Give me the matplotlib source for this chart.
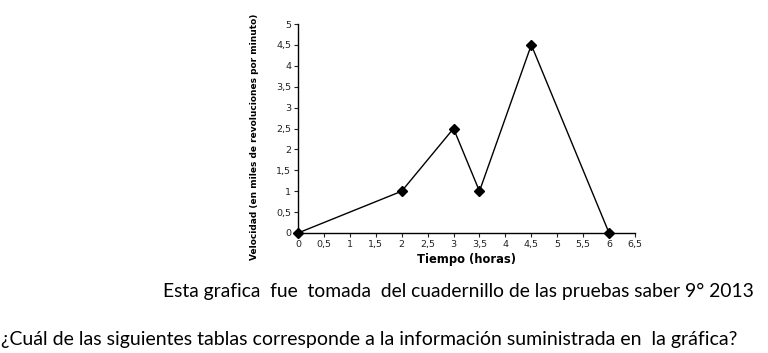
import matplotlib
matplotlib.use('Agg')
import matplotlib.pyplot as plt
import numpy as np

# datos de la grafica
tiempo = [0, 2, 3, 3.5, 4.5, 6]
velocidad = [0, 1, 2.5, 1, 4.5, 0]
x_ticks = np.arange(0, 6.51, 0.5)
y_ticks = np.arange(0, 5.01, 0.5)


def fmt(v):
    s = f'{v:g}'
    return s.replace('.', ',')


fig = plt.figure(figsize=(7.68, 3.53), dpi=100)
ax = fig.add_axes([298 / 768, 1 - 233 / 353, 337 / 768, 209 / 353])

ax.plot(tiempo, velocidad, color='black', lw=1.0, marker='D', markersize=5,
        markerfacecolor='black', clip_on=False, zorder=3)

ax.set_xlim(0, 6.5)
ax.set_ylim(0, 5)
ax.set_xticks(x_ticks)
ax.set_xticklabels([fmt(v) for v in x_ticks])
ax.set_yticks(y_ticks)
ax.set_yticklabels([fmt(v) for v in y_ticks])
ax.tick_params(labelsize=6.8, length=3, width=0.8, pad=2, colors='#222222')

for s in ['top', 'right']:
    ax.spines[s].set_visible(False)
for s in ['left', 'bottom']:
    ax.spines[s].set_linewidth(1.0)

ax.set_xlabel('Tiempo (horas)', fontsize=8.3, fontweight='bold', labelpad=3)
ax.set_ylabel('Velocidad (en miles de revoluciones por minuto)', fontsize=6.5,
              fontweight='bold')
ax.yaxis.set_label_coords(-0.115, 0.46)

fig.text(163 / 768, 1 - 291 / 353, 'Esta grafica  fue  tomada  del cuadernillo de las pruebas saber 9° 2013',
         fontsize=13.9, family='Lato', va='center', ha='left')
fig.text(1 / 768, 1 - 340 / 353,
         '¿Cuál de las siguientes tablas corresponde a la información suministrada en  la gráfica?',
         fontsize=14, family='Lato', va='center', ha='left')

fig.savefig('out.png', dpi=100)
